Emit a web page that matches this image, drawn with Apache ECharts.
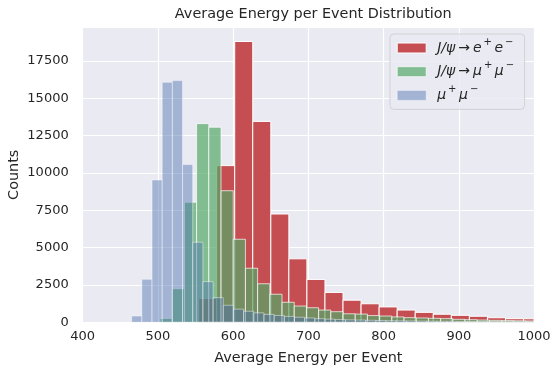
<!DOCTYPE html>
<html>
<head>
<meta charset="utf-8">
<script src="https://cdn.jsdelivr.net/npm/echarts@6/dist/echarts.min.js"></script>
<style>
  html, body { margin: 0; padding: 0; background: #ffffff; }
  #chart { width: 553px; height: 369px; }
</style>
</head>
<body>
<div id="chart"></div>
<script>
// ---- Data ----
const seriesNames = ['J/ψ→e⁺e⁻', 'J/ψ→μ⁺μ⁻', 'μ⁺μ⁻'];

// J/psi -> e+e- : histogram bins (left edge of first bin, bin width) and counts
const redBinStart = 554.1;
const redBinWidth = 24.0;
const redCounts = [1600, 10490, 18800, 13450, 7250, 4250, 2870, 2000, 1480, 1240,
                   1030, 820, 665, 540, 465, 405, 305, 240, 235];

// J/psi -> mu+mu-
const greenBinStart = 502.8;
const greenBinWidth = 16.22;
const greenCounts = [260, 2250, 8040, 13300, 13060, 8810, 5560, 3620, 2580, 1880,
                     1340, 1090, 975, 820, 710, 570, 550, 450, 420, 360,
                     310, 290, 265, 245, 200, 175, 150, 130, 115, 100, 90];

// mu+mu-
const blueBinStart = 465.1;
const blueBinWidth = 13.53;
const blueCounts = [420, 2880, 9530, 16070, 16180, 10560, 5360, 2720, 1650, 1140,
                    880, 740, 630, 530, 460, 395, 338, 290, 240, 210,
                    185, 165, 150, 135, 120, 110, 100, 90, 80, 75,
                    70, 65, 60, 55, 50, 45, 42, 40, 38, 35];

const xTicks = [400, 500, 600, 700, 800, 900, 1000];
const yTicks = [0, 2500, 5000, 7500, 10000, 12500, 15000, 17500];

// ---- Styling ----
const FONT = 'DejaVu Sans';
const TEXT = '#262626';
const colors = ['#C44E52', '#55A868', '#4C72B0'];
const alphas = [1.0, 0.7, 0.45];

function toBins(start, width, counts) {
  return counts.map((c, i) => [start + i * width, start + (i + 1) * width, c]);
}

function makeRender(color, alpha) {
  return function (params, api) {
    const x0 = api.value(0), x1 = api.value(1), c = api.value(2);
    const p0 = api.coord([x0, c]);
    const p1 = api.coord([x1, 0]);
    const cs = params.coordSys;
    const rect = echarts.graphic.clipRectByRect(
      { x: p0[0], y: p0[1], width: p1[0] - p0[0], height: p1[1] - p0[1] },
      { x: cs.x, y: cs.y, width: cs.width, height: cs.height }
    );
    if (!rect) return null;
    return {
      type: 'rect',
      shape: rect,
      style: { fill: color, stroke: '#ffffff', lineWidth: 1, opacity: alpha }
    };
  };
}

const datasets = [
  toBins(redBinStart, redBinWidth, redCounts),
  toBins(greenBinStart, greenBinWidth, greenCounts),
  toBins(blueBinStart, blueBinWidth, blueCounts)
];

const legendText = {};
legendText[seriesNames[0]] = '{a|J/ψ}{r|→}{i|e}{s|+}{i|e}{s|−}';
legendText[seriesNames[1]] = '{a|J/ψ}{r|→}{i|μ}{s|+}{i|μ}{s|−}';
legendText[seriesNames[2]] = '{a|μ}{s|+}{i|μ}{s|−}';

function hexA(hex, a) {
  const n = parseInt(hex.slice(1), 16);
  return 'rgba(' + (n >> 16) + ',' + ((n >> 8) & 255) + ',' + (n & 255) + ',' + a + ')';
}

const chart = echarts.init(document.getElementById('chart'), null, { renderer: 'canvas' });

const option = {
  animation: false,
  backgroundColor: '#ffffff',
  title: {
    text: 'Average Energy per Event Distribution',
    left: 308.3,
    textAlign: 'center',
    top: 2,
    textStyle: { fontFamily: FONT, fontSize: 14.4, fontWeight: 'normal', color: TEXT }
  },
  grid: {
    left: 82.7, top: 27.3, right: 19, bottom: 46.7,
    containLabel: false,
    outerBoundsMode: 'none',
    show: true, backgroundColor: '#EAEAF2', borderWidth: 0
  },
  legend: {
    orient: 'vertical',
    left: 390, top: 34,
    padding: [3, 8, 3, 6.7],
    itemGap: 1.7,
    itemWidth: 29, itemHeight: 10,
    icon: 'rect',
    backgroundColor: 'rgba(234,234,242,0.8)',
    borderColor: 'rgba(204,204,204,0.8)',
    borderWidth: 1,
    borderRadius: 4,
    data: seriesNames.map((n, i) => ({
      name: n,
      itemStyle: { color: hexA(colors[i], alphas[i]), borderColor: 'rgba(255,255,255,' + alphas[i] + ')', borderWidth: 1 }
    })),
    formatter: name => legendText[name],
    textStyle: {
      fontFamily: FONT, color: TEXT,
      rich: {
        a: { fontFamily: FONT, fontStyle: 'italic', fontSize: 14, color: TEXT, lineHeight: 18, padding: [0, 0, 0, 6] },
        i: { fontFamily: FONT, fontStyle: 'italic', fontSize: 14, color: TEXT, lineHeight: 18 },
        r: { fontFamily: FONT, fontSize: 14, color: TEXT, lineHeight: 18, padding: [0, 3, 0, 3] },
        s: { fontFamily: FONT, fontSize: 10, color: TEXT, lineHeight: 10, padding: [0, 2.5, 12, 2] }
      }
    }
  },
  xAxis: {
    type: 'value',
    min: xTicks[0], max: xTicks[xTicks.length - 1], interval: xTicks[1] - xTicks[0],
    name: 'Average Energy per Event',
    nameLocation: 'middle',
    nameGap: 29,
    nameMoveOverlap: false,
    nameTextStyle: { fontFamily: FONT, fontSize: 14.4, color: TEXT },
    axisLine: { show: false }, axisTick: { show: false },
    axisLabel: { fontFamily: FONT, fontSize: 13, color: TEXT, margin: 8, formatter: v => String(v) },
    splitLine: { show: true, lineStyle: { color: '#ffffff', width: 1.2 } }
  },
  yAxis: {
    type: 'value',
    min: 0, max: 19750, interval: yTicks[1] - yTicks[0],
    name: 'Counts',
    nameLocation: 'middle',
    nameGap: 61,
    nameMoveOverlap: false,
    nameTextStyle: { fontFamily: FONT, fontSize: 14.4, color: TEXT },
    axisLine: { show: false }, axisTick: { show: false },
    axisLabel: {
      fontFamily: FONT, fontSize: 13, color: TEXT, margin: 14, showMaxLabel: false,
      formatter: v => (yTicks.indexOf(v) >= 0 ? String(v) : '')
    },
    splitLine: { show: true, lineStyle: { color: '#ffffff', width: 1.2 } }
  },
  series: datasets.map((d, i) => ({
    type: 'custom',
    name: seriesNames[i],
    renderItem: makeRender(colors[i], alphas[i]),
    itemStyle: { color: hexA(colors[i], alphas[i]) },
    encode: { x: [0, 1], y: 2 },
    clip: true,
    data: d
  }))
};

chart.setOption(option);
</script>
</body>
</html>
